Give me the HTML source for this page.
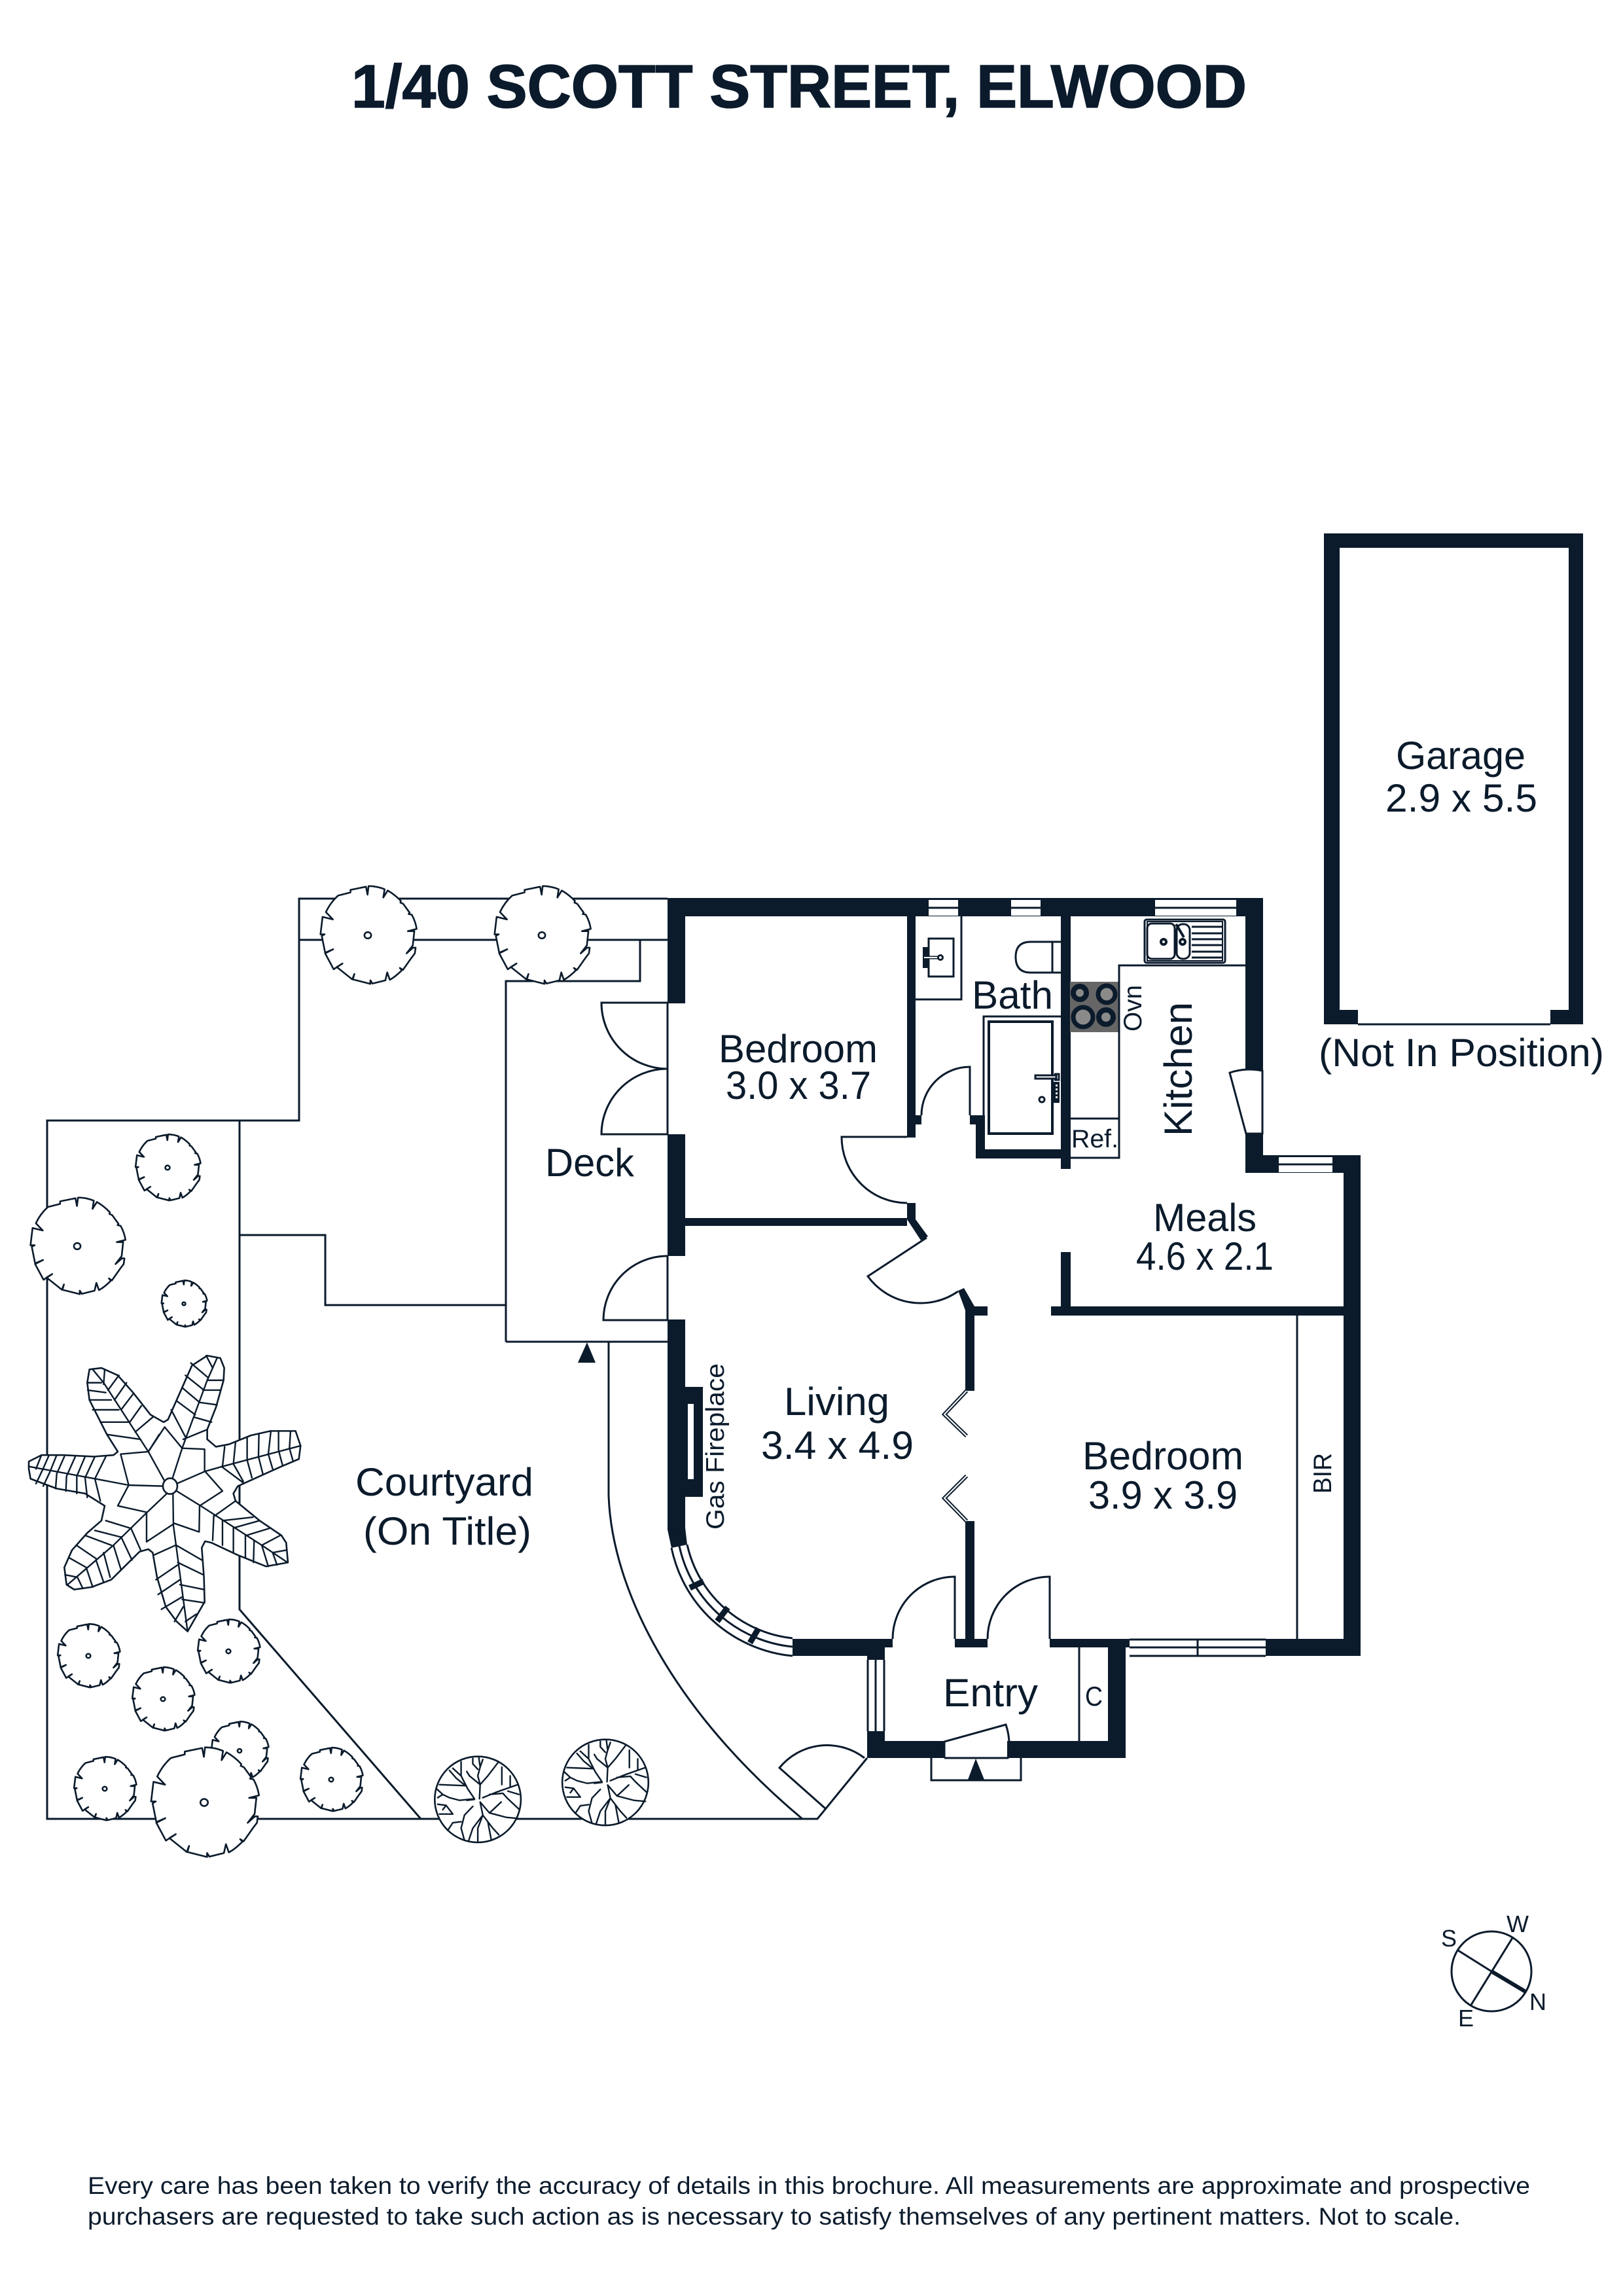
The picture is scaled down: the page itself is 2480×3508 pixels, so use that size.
<!DOCTYPE html>
<html><head><meta charset="utf-8"><style>
html,body{margin:0;padding:0;background:#fff;width:2480px;height:3508px;overflow:hidden}
svg{display:block}
text{font-family:"Liberation Sans",sans-serif;fill:#0b1b2c}
.r{font-size:60px}
.s{font-size:39px}
.l{fill:none;stroke:#0b1b2c;stroke-width:3}
.f{fill:#fff;stroke:#0b1b2c;stroke-width:3}
.t{fill:#fff;stroke:#0b1b2c;stroke-width:2.6;vector-effect:non-scaling-stroke;stroke-linejoin:round}
.n{fill:none;stroke:#0b1b2c;stroke-width:2.4;vector-effect:non-scaling-stroke;stroke-linecap:round;stroke-linejoin:round}
.w{fill:#0b1b2c}
</style></head><body>
<svg xmlns="http://www.w3.org/2000/svg" width="2480" height="3508" viewBox="0 0 2480 3508">
<defs>
<g id="tree">
<path class="t" d="M243,48 L243,40 L303,30 L309,55 L313,28 Q345,28 375,38 L370,64 L387,42 Q415,55 438,75 L436,80 L447,84 L472,112 L468,116 L480,118 Q495,140 499,163 L465,170 L490,170 L484,215 L460,240 L485,222 L495,222 L492,240 L478,255 L446,292 L434,286 L442,293 Q415,315 395,323 L385,300 L378,325 L328,335 L320,325 L320,336 L252,322 L258,305 L250,322 L190,283 L212,272 L178,290 L145,240 L176,227 L145,238 L132,185 L143,180 L127,180 L135,125 L175,133 L148,110 Q165,80 195,58 Z"/>
<ellipse class="t" cx="310" cy="183" rx="13" ry="10"/>
</g>
<g id="orn">
<ellipse class="t" cx="255" cy="748" rx="129" ry="197"/>
<path class="n" d="M260 745L262 680L255 640L262 600L258 555M262 680L285 640L315 580M262 680L230 640L222 620M255 610L240 585L240 560M262 600L270 565M245 745L225 700L205 640L205 575M218 685L140 680M218 685L190 650L170 615M205 640L180 605M245 745L200 752L170 740L150 725L132 700M150 725L135 740M270 740L310 715L375 680M290 725L330 720L345 745L380 795M345 710L378 725M327 600L327 680M352 640L352 690M262 760L290 810L325 760M290 810L340 830L375 835M262 760L270 820L255 880L255 940M270 820L300 880L318 910M270 820L240 880L228 935M285 850L295 930M240 780L215 820L205 880L215 935M205 850L180 855L165 890M180 815L140 815M180 815L160 775L135 770M160 775L150 795M222 752L245 748"/>
</g>
</defs>

<text x="537" y="164" font-size="93" font-weight="700" stroke="#0b1b2c" stroke-width="1.6" textLength="1368" lengthAdjust="spacingAndGlyphs">1/40 SCOTT STREET, ELWOOD</text>

<!-- site lines -->
<path class="l" d="M1020 1373H457V1712H72V2779H1226M457 1436H1020M366 1712V2459L643 2779M366 1887H497V1994H773M773 2050V1499H978V1436M773 2050H1020M930 2050V2285C935 2430 1030 2615 1226 2779M1226 2779H1249L1325 2686M1020 1533V1733M1020 1919V2017"/>

<!-- deck doors -->
<path class="l" d="M1020 1532H919A101 101 0 0 0 1020 1633A101 100 0 0 0 919 1733H1020M1020 1919A98 98 0 0 0 922 2017H1020"/>
<!-- courtyard door -->
<path class="l" d="M1261 2763L1191 2701A94 94 0 0 1 1321 2686"/>
<path d="M897 2051L883 2082H910Z" class="w"/>

<!-- walls -->
<g class="w">
<rect x="1020" y="1372" width="910" height="28"/>
<rect x="1020" y="1372" width="27" height="161"/>
<rect x="1020" y="1733" width="27" height="186"/>
<rect x="1020" y="2016" width="27" height="321"/>
<path d="M1020 2337L1026 2365L1050 2360L1047 2334Z"/>
<rect x="1047" y="2119" width="27" height="168"/>
<rect x="1047" y="1861" width="339" height="12"/>
<rect x="1386" y="1400" width="13" height="338"/>
<rect x="1386" y="1704" width="22" height="14"/>
<rect x="1386" y="1838" width="13" height="25"/>
<path d="M1386 1863H1399L1418 1889L1407 1895Z"/>
<path d="M1464 1972L1473 1968L1489 1996L1475 2002Z"/>
<rect x="1475" y="1996" width="34" height="14"/>
<rect x="1475" y="1996" width="14" height="129"/>
<rect x="1475" y="2324" width="14" height="181"/>
<rect x="1459" y="2504" width="50" height="13"/>
<rect x="1606" y="1996" width="473" height="14"/>
<rect x="1621" y="1913" width="15" height="83"/>
<rect x="1621" y="1400" width="15" height="386"/>
<rect x="1491" y="1756" width="130" height="14"/>
<rect x="1491" y="1704" width="14" height="52"/>
<rect x="1482" y="1704" width="23" height="14"/>
<rect x="1903" y="1372" width="27" height="264"/>
<rect x="1903" y="1732" width="27" height="60"/>
<rect x="1903" y="1765" width="176" height="27"/>
<rect x="2053" y="1765" width="26" height="765"/>
<rect x="1934" y="2504" width="145" height="26"/>
<rect x="1604" y="2504" width="122" height="13"/>
<rect x="1693" y="2504" width="27" height="182"/>
<rect x="1211" y="2504" width="114" height="26"/>
<rect x="1325" y="2504" width="39" height="13"/>
<rect x="1325" y="2504" width="27" height="32"/>
<rect x="1325" y="2645" width="27" height="41"/>
<rect x="1325" y="2660" width="118" height="26"/>
<rect x="1539" y="2660" width="181" height="26"/>
<!-- garage -->
<rect x="2023" y="815" width="396" height="22"/>
<rect x="2023" y="815" width="24" height="750"/>
<rect x="2397" y="815" width="22" height="750"/>
<rect x="2023" y="1543" width="52" height="22"/>
<rect x="2369" y="1543" width="50" height="22"/>
</g>
<path class="l" d="M2075 1565H2369"/>
<rect x="1051" y="2145" width="9" height="115" fill="#fff"/>

<!-- windows -->
<g fill="#fff">
<rect x="1419" y="1375" width="45" height="24"/>
<rect x="1545" y="1375" width="45" height="24"/>
<rect x="1765" y="1375" width="124" height="24"/>
<rect x="1954" y="1768" width="82" height="23"/>
<rect x="1726" y="2505" width="208" height="25"/>
<rect x="1326" y="2536" width="25" height="109"/>
</g>
<path class="l" d="M1419 1387H1464M1545 1387H1590M1765 1387H1889M1954 1779H2036M1726 2517H1934M1726 2505H1934M1726 2530H1934M1830 2505V2530M1338 2536V2645M1326 2536V2645M1351 2536V2645" />

<!-- curved window -->
<path class="l" d="M1026 2365C1046 2460 1125 2522 1211 2530M1038 2362C1057 2450 1130 2508 1211 2516M1050 2360C1068 2440 1135 2495 1211 2503"/>
<path d="M1075 2416L1054 2426M1112 2456L1096 2477M1159 2488L1146 2510" stroke="#0b1b2c" stroke-width="9" fill="none"/>

<!-- interior doors -->
<path class="l" d="M1386 1737H1286A100 101 0 0 0 1386 1838"/>
<path class="l" d="M1482 1704V1630A74 74 0 0 0 1408 1704"/>
<path class="l" d="M1416 1891L1326 1950A100 100 0 0 0 1464 1973"/>
<path class="l" d="M1459 2504V2409A95 95 0 0 0 1364 2504M1604 2504V2409A95 95 0 0 0 1509 2504"/>
<path d="M1477 2125L1443 2161L1477 2194M1477 2255L1443 2289L1477 2324" fill="none" stroke="#0b1b2c" stroke-width="6"/>
<path d="M1477 2125L1443 2161L1477 2194M1477 2255L1443 2289L1477 2324" fill="none" stroke="#fff" stroke-width="2"/>
<path class="f" d="M1879 1639A97 97 0 0 1 1929 1636V1732H1904Z"/>
<rect x="1443" y="2661" width="96" height="25" fill="#fff"/>
<path class="l" d="M1443 2686V2661L1537 2635A97 97 0 0 1 1540 2686H1443"/>
<path class="l" d="M1423 2686V2720H1560V2686"/>
<path class="w" d="M1491 2687L1479 2719H1504Z"/>
<path class="l" d="M1649 2517V2660M1982 2010V2504"/>

<!-- bath fittings -->
<path class="l" d="M1399 1527H1469V1400"/>
<rect x="1419" y="1434" width="38" height="58" class="f"/>
<rect x="1410" y="1447" width="9" height="32" class="w"/>
<path d="M1412 1463H1435" stroke="#0b1b2c" stroke-width="5"/><path d="M1412 1463H1435" stroke="#fff" stroke-width="2"/>
<circle cx="1437" cy="1463" r="3.5" class="f"/>
<path class="l" d="M1621 1439H1575Q1552 1439 1552 1462Q1552 1486 1575 1486H1621M1608 1439V1486"/>
<path class="l" d="M1621 1553H1503V1756"/>
<rect x="1511" y="1561" width="97" height="171" fill="#fff" stroke="#0b1b2c" stroke-width="4"/>
<rect x="1582" y="1643" width="32" height="5" class="f"/>
<path class="l" d="M1611 1641H1618V1650H1611" stroke-width="2"/>
<rect x="1610" y="1653" width="9" height="32" fill="#0b1b2c"/>
<path d="M1614.5 1657V1681" stroke="#fff" stroke-width="3" stroke-dasharray="3 3"/>
<circle cx="1592" cy="1680" r="4" fill="#fff" stroke="#0b1b2c" stroke-width="3"/>

<!-- kitchen -->
<rect x="1635" y="1500" width="74" height="77" fill="#666"/>
<g stroke="#0b1b2c" fill="#8a8a8a">
<circle cx="1650" cy="1517" r="10" stroke-width="8"/>
<circle cx="1691" cy="1519" r="13" stroke-width="7"/>
<circle cx="1655" cy="1554" r="15" stroke-width="7"/>
<circle cx="1690" cy="1554" r="11" stroke-width="8"/>
</g>
<path class="l" d="M1903 1475H1710V1769H1636M1636 1709H1710"/>
<rect x="1749" y="1405" width="123" height="66" rx="3" fill="none" stroke="#0b1b2c" stroke-width="3"/>
<rect x="1753" y="1408" width="115" height="60" fill="none" stroke="#0b1b2c" stroke-width="2"/>
<rect x="1753" y="1411" width="42" height="54" rx="7" class="f"/>
<rect x="1798" y="1412" width="20" height="53" rx="9" class="f"/>
<circle cx="1778" cy="1439" r="4" fill="#fff" stroke="#0b1b2c" stroke-width="4"/>
<circle cx="1807" cy="1439" r="4" fill="#fff" stroke="#0b1b2c" stroke-width="4"/>
<path d="M1797 1412L1809 1432" stroke="#0b1b2c" stroke-width="4"/>
<path d="M1821 1416H1867M1821 1426H1867M1821 1435H1867M1821 1444H1867M1821 1454H1867M1821 1463H1867" stroke="#0b1b2c" stroke-width="3"/>

<!-- trees -->
<use href="#tree" transform="translate(562,1429) scale(.395,.485) translate(-310,-183)"/>
<use href="#tree" transform="translate(828,1429) scale(.395,.485) translate(-310,-183)"/>
<use href="#tree" transform="translate(256,1784) scale(.267,.328) translate(-310,-183)"/>
<use href="#tree" transform="translate(118,1904) scale(.39,.479) translate(-310,-183)"/>
<use href="#tree" transform="translate(281,1992) scale(.187,.23) translate(-310,-183)"/>
<use href="#tree" transform="translate(135,2530) scale(.256,.315) translate(-310,-183)"/>
<use href="#tree" transform="translate(349,2523) scale(.256,.315) translate(-310,-183)"/>
<use href="#tree" transform="translate(249,2596) scale(.256,.315) translate(-310,-183)"/>
<use href="#tree" transform="translate(366,2675) scale(.235,.288) translate(-310,-183)"/>
<use href="#tree" transform="translate(160,2733) scale(.256,.315) translate(-310,-183)"/>
<use href="#tree" transform="translate(312,2754) scale(.443,.544) translate(-310,-183)"/>
<use href="#tree" transform="translate(506,2719) scale(.256,.315) translate(-310,-183)"/>

<g transform="translate(600,2500) scale(.5102,.3333)"><use href="#orn"/></g>
<g transform="translate(600,2500) scale(.5102,.3333) translate(382,-78)"><use href="#orn"/></g>

<!-- palm -->
<g transform="translate(30,1680) scale(.3333,.7524)">
<path class="t" d="M42 735L100 722L200 722L340 725L430 722L450 715L400 680L320 610L310 575L320 548L375 545L450 560L520 595L600 640L660 655L680 650L730 600L790 540L860 520L920 525L938 545L935 570L900 625L860 670L860 690L900 705L960 700L1060 682L1150 673L1265 673L1288 703L1280 730L1200 745L1100 765L1000 785L980 800L990 815L1100 855L1200 885L1222 900L1230 940L1130 948L1000 925L880 900L850 897L835 910L845 970L848 1020L770 1080L720 1060L670 1030L630 970L610 920L590 913L550 918L420 975L330 990L250 995L215 985L205 950L240 915L310 880L375 855L390 825L300 800L170 790L50 770L42 750Z"/>
<path class="n" d="M660 785L500 783L345 770L42 745M665 775L590 715L385 575L335 548M700 770L745 708L860 570L905 525M720 780L850 755L930 745L1288 703M720 795L830 825L1110 905L1228 940M703 800L705 865L770 1080M675 800L580 840L430 905L220 985"/>
<path class="n" d="M590 715L665 665L745 708M745 708L848 710V755M850 755L930 795L825 825M825 825L823 878L705 860M705 862L582 898V840M582 838L450 825L500 783M500 783L463 720L590 715"/>
<path class="n" d="M345 770L395 725M300 768L345 725M262 765L300 725M215 765L255 725M170 760L205 725M138 757L170 722M105 752L135 722M75 750L100 722M345 770L370 815M300 768L310 808M262 765L262 800M215 765L212 795M170 760L165 790M138 757L108 785M105 752L75 780"/>
<path class="n" d="M930 745L940 705M980 740L990 695M1043 732V685M1095 725L1097 678M1140 720L1152 673M1187 712V673M1237 708L1242 673M925 745L1025 778M980 740L1025 775M1043 732L1065 768M1095 725L1115 760M1140 720L1160 750M1187 712L1205 742M1237 708L1252 732"/>
<path class="n" d="M505 655L558 622M465 630L520 598M435 610L490 575M405 590L455 560M385 578L390 548M500 655H370M455 630H335M420 610H320M395 595L312 590M375 575H310M530 675L610 645M590 715L640 680M555 690L400 680"/>
<path class="n" d="M760 685L695 630M805 640L720 612M825 615L745 585M845 590L760 560M865 565L785 535M885 545L855 520M750 690L860 670M800 645L880 655M825 615L905 620M840 590L920 590M860 570L930 570"/>
<path class="n" d="M895 845L990 815M930 855L1070 848M980 870L1100 855M1040 885L1150 870M1110 905L1195 885M1160 920L1222 915M890 845L885 895M930 855V905M980 870V918M1035 885V930M1075 895L1072 940M1110 905L1140 948M1160 920L1180 945"/>
<path class="n" d="M718 905L835 935M725 940L842 965M735 985L846 995M745 1015L848 1022M760 1060L810 1045M715 905L615 925M725 945L625 975M735 975L635 1005M745 1010L650 1035M750 1030L710 1060"/>
<path class="n" d="M510 870L555 915M465 888L515 935M430 905L465 955M385 920L415 970M350 935L385 980M305 950L335 990M265 970L290 993M505 870L395 855M460 888L345 875M420 905L300 885M350 932L260 905M305 950L225 930M265 970L208 965"/>
<ellipse class="t" cx="690" cy="785" rx="33" ry="16"/>
</g>

<!-- labels -->
<text class="r" x="1098" y="1623" textLength="243" lengthAdjust="spacingAndGlyphs">Bedroom</text>
<text class="r" x="1109" y="1679" textLength="222" lengthAdjust="spacingAndGlyphs">3.0 x 3.7</text>
<text class="r" x="1485" y="1541" textLength="124" lengthAdjust="spacingAndGlyphs">Bath</text>
<text class="r" x="1762" y="1881" textLength="158" lengthAdjust="spacingAndGlyphs">Meals</text>
<text class="r" x="1736" y="1940" textLength="210" lengthAdjust="spacingAndGlyphs">4.6 x 2.1</text>
<text class="r" x="1198" y="2162" textLength="161" lengthAdjust="spacingAndGlyphs">Living</text>
<text class="r" x="1163" y="2229" textLength="233" lengthAdjust="spacingAndGlyphs">3.4 x 4.9</text>
<text class="r" x="1654" y="2245" textLength="246" lengthAdjust="spacingAndGlyphs">Bedroom</text>
<text class="r" x="1663" y="2305" textLength="228" lengthAdjust="spacingAndGlyphs">3.9 x 3.9</text>
<text class="r" x="1441" y="2607" textLength="145" lengthAdjust="spacingAndGlyphs">Entry</text>
<text x="1658" y="2606" font-size="42" textLength="27" lengthAdjust="spacingAndGlyphs">C</text>
<text class="r" x="833" y="1797" textLength="136" lengthAdjust="spacingAndGlyphs">Deck</text>
<text class="r" x="543" y="2285" textLength="272" lengthAdjust="spacingAndGlyphs">Courtyard</text>
<text class="r" x="555" y="2360" textLength="257" lengthAdjust="spacingAndGlyphs">(On Title)</text>
<text class="r" x="2133" y="1175" textLength="198" lengthAdjust="spacingAndGlyphs">Garage</text>
<text class="r" x="2117" y="1240" textLength="232" lengthAdjust="spacingAndGlyphs">2.9 x 5.5</text>
<text class="r" x="2015" y="1629" textLength="436" lengthAdjust="spacingAndGlyphs">(Not In Position)</text>
<text class="s" x="1637" y="1753" textLength="72" lengthAdjust="spacingAndGlyphs">Ref.</text>
<text class="r" transform="translate(1821,1736) rotate(-90)" textLength="205" lengthAdjust="spacingAndGlyphs">Kitchen</text>
<text class="s" transform="translate(1744,1576) rotate(-90)" textLength="71" lengthAdjust="spacingAndGlyphs">Ovn</text>
<text class="s" transform="translate(1106,2337) rotate(-90)" textLength="254" lengthAdjust="spacingAndGlyphs">Gas Fireplace</text>
<text class="s" transform="translate(2034,2282) rotate(-90)" textLength="62" lengthAdjust="spacingAndGlyphs">BIR</text>

<!-- compass -->
<circle cx="2279" cy="3012" r="61" fill="none" stroke="#0b1b2c" stroke-width="3"/>
<path d="M2228 2980L2279 3012M2311 2961L2248 3063" stroke="#0b1b2c" stroke-width="3"/>
<path d="M2279 3012L2331 3043" stroke="#0b1b2c" stroke-width="6"/>
<text x="2302" y="2952" font-size="36">W</text>
<text x="2202" y="2974" font-size="36">S</text>
<text x="2337" y="3071" font-size="36">N</text>
<text x="2228" y="3096" font-size="36">E</text>

<!-- footer -->
<text x="134" y="3352" font-size="37" textLength="2204" lengthAdjust="spacingAndGlyphs">Every care has been taken to verify the accuracy of details in this brochure. All measurements are approximate and prospective</text>
<text x="134" y="3399" font-size="37" textLength="2098" lengthAdjust="spacingAndGlyphs">purchasers are requested to take such action as is necessary to satisfy themselves of any pertinent matters. Not to scale.</text>
</svg>
</body></html>
